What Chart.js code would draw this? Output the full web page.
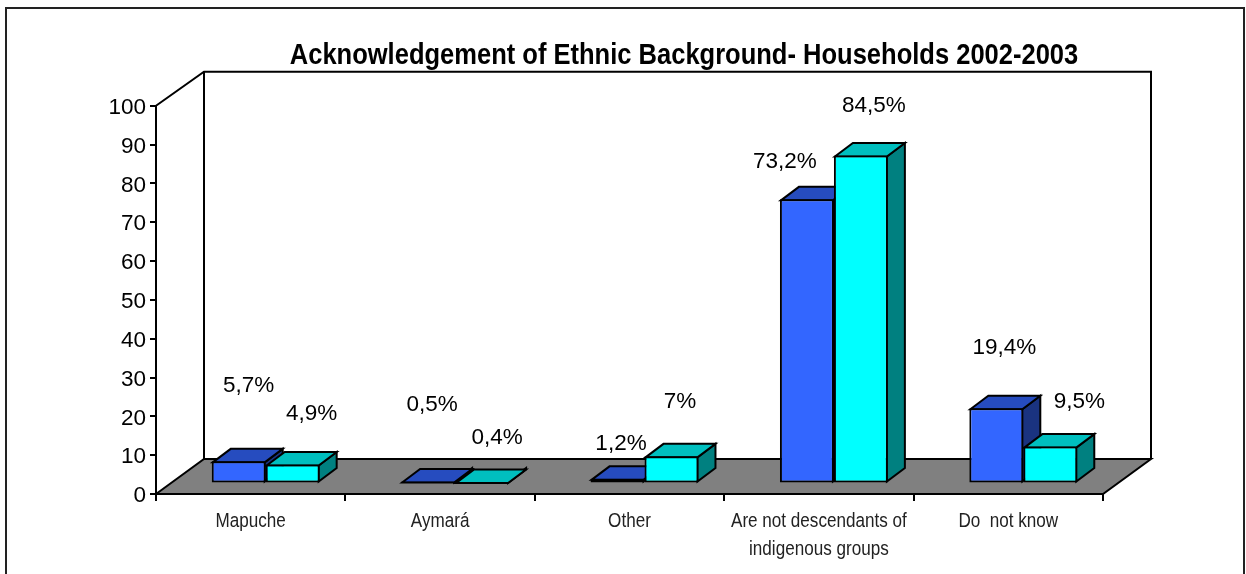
<!DOCTYPE html>
<html>
<head>
<meta charset="utf-8">
<style>
  html, body { margin: 0; padding: 0; background: #fff; overflow: hidden; }
  #box { position: relative; width: 1246px; height: 574px; }
</style>
<script src="https://cdn.jsdelivr.net/npm/chart.js@4/dist/chart.umd.min.js"></script>
</head>
<body>
<div id="box"><canvas id="chart" width="1246" height="574"></canvas></div>
<script>
const categories = ['Mapuche', 'Aymará', 'Other', ['Are not descendants of', 'indigenous groups'], 'Do  not know'];
const series2002 = [5.7, 0.5, 1.2, 73.2, 19.4];
const series2003 = [4.9, 0.4, 7, 84.5, 9.5];
const labels2002 = ['5,7%', '0,5%', '1,2%', '73,2%', '19,4%'];
const labels2003 = ['4,9%', '0,4%', '7%', '84,5%', '9,5%'];
const yTicks = [0, 10, 20, 30, 40, 50, 60, 70, 80, 90, 100];
const titleText = 'Acknowledgement of Ethnic Background- Households 2002-2003';

// Label placement relative to the top-centre of each bar's front face.
const labelNudge2002 = [[10, -75.5], [4, -76.5], [3.5, -35.5], [-22, -38], [8, -60.5]];
const labelNudge2003 = [[19, -51], [15, -44.5], [8.5, -54.5], [13, -50], [29, -45]];

// Pseudo-3D projection: the room's depth and where the bars stand inside it.
const ROOM_DX = 48, ROOM_DY = -35;
const ROW_DX = 15, ROW_DY = -10.5;
const BAR_DX = 18, BAR_DY = -13.5;

const faces = [
  { top: '#264cbf', side: '#1a3380' },
  { top: '#00bfbf', side: '#008080' }
];

const TITLE_SQUEEZE = 0.88;
const CATEGORY_SQUEEZE = 0.834;
const TITLE_CENTRE = 684;
const Y_LABEL_DROP = 2;

function poly(ctx, pts, fill) {
  ctx.beginPath();
  pts.forEach((p, i) => (i ? ctx.lineTo(p[0], p[1]) : ctx.moveTo(p[0], p[1])));
  ctx.closePath();
  ctx.fillStyle = fill;
  ctx.fill();
  ctx.stroke();
}

// Runs a drawing call with its text narrowed horizontally around each anchor,
// since no condensed face of the sans family is available.
function squeezed(ctx, k, draw) {
  const fill = ctx.fillText;
  ctx.fillText = function (t, x, y, m) {
    this.save();
    this.scale(k, 1);
    if (m === undefined) fill.call(this, t, x / k, y);
    else fill.call(this, t, x / k, y, m);
    this.restore();
  };
  draw();
  delete ctx.fillText;
}

const room3d = {
  id: 'room3d',
  afterLayout(chart) {
    const title = chart.titleBlock;
    const shift = TITLE_CENTRE - (title.left + title.right) / 2;
    title.left += shift;
    title.right += shift;
    if (!title._narrowed) {
      title._narrowed = true;
      const drawTitle = title.draw;
      title.draw = function () { squeezed(chart.ctx, TITLE_SQUEEZE, () => drawTitle.call(title)); };
      const xScale = chart.scales.x;
      const drawXLabels = xScale.drawLabels;
      xScale.drawLabels = function (area) { squeezed(chart.ctx, CATEGORY_SQUEEZE, () => drawXLabels.call(xScale, area)); };
      const yScale = chart.scales.y;
      const drawYLabels = yScale.drawLabels;
      yScale.drawLabels = function (area) {
        chart.ctx.save();
        chart.ctx.translate(0, Y_LABEL_DROP);
        drawYLabels.call(yScale, area);
        chart.ctx.restore();
      };
    }
  },
  beforeDraw(chart) {
    const { ctx, chartArea: a } = chart;
    ctx.save();
    ctx.lineWidth = 2;
    ctx.lineJoin = 'miter';
    // Frame around the whole figure, open past the bottom edge.
    ctx.strokeStyle = '#222';
    ctx.strokeRect(6, 8, 1238, 580);
    ctx.strokeStyle = '#000';
    // Floor.
    poly(ctx, [[a.left, a.bottom], [a.left + ROOM_DX, a.bottom + ROOM_DY],
               [a.right + ROOM_DX, a.bottom + ROOM_DY], [a.right, a.bottom]], '#808080');
    // Side and back walls.
    ctx.beginPath();
    ctx.moveTo(a.left, a.top);
    ctx.lineTo(a.left + ROOM_DX, a.top + ROOM_DY + 1);
    ctx.lineTo(a.right + ROOM_DX, a.top + ROOM_DY + 1);
    ctx.lineTo(a.right + ROOM_DX, a.bottom + ROOM_DY);
    ctx.moveTo(a.left + ROOM_DX, a.top + ROOM_DY + 1);
    ctx.lineTo(a.left + ROOM_DX, a.bottom + ROOM_DY);
    ctx.stroke();
    ctx.restore();
  },
  beforeDatasetsDraw(chart) {
    // Top and side faces go first, left series before right, so the right
    // series' faces cover the left series' side where they meet.
    const { ctx } = chart;
    ctx.save();
    ctx.lineWidth = 2;
    ctx.strokeStyle = '#000';
    ctx.lineJoin = 'miter';
    ctx.translate(ROW_DX, ROW_DY);
    [0, 1].forEach(ds => {
      const col = faces[ds];
      chart.getDatasetMeta(ds).data.forEach(el => {
        const p = el.getProps(['x', 'y', 'base', 'width'], true);
        const L = p.x - p.width / 2 + 1, R = p.x + p.width / 2 - 1;
        const T = p.y + 1, B = p.base - 1;
        poly(ctx, [[R, T], [R + BAR_DX, T + BAR_DY], [R + BAR_DX, B + BAR_DY], [R, B]], col.side);
        poly(ctx, [[L, T], [L + BAR_DX, T + BAR_DY], [R + BAR_DX, T + BAR_DY], [R, T]], col.top);
      });
    });
    ctx.restore();
  },
  beforeDatasetDraw(chart) {
    // Front faces come from the bar controller, moved back into the room.
    chart.ctx.save();
    chart.ctx.translate(ROW_DX, ROW_DY);
  },
  afterDatasetDraw(chart) {
    chart.ctx.restore();
  },
  afterDatasetsDraw(chart) {
    const { ctx } = chart;
    const texts = [labels2002, labels2003];
    const nudges = [labelNudge2002, labelNudge2003];
    ctx.save();
    ctx.font = '22.5px "Liberation Sans", Arial, sans-serif';
    ctx.fillStyle = '#000';
    ctx.textAlign = 'center';
    ctx.textBaseline = 'middle';
    [0, 1].forEach(ds => {
      chart.getDatasetMeta(ds).data.forEach((el, i) => {
        const p = el.getProps(['x', 'y'], true);
        ctx.fillText(texts[ds][i], p.x + ROW_DX + nudges[ds][i][0], p.y + ROW_DY + nudges[ds][i][1]);
      });
    });
    ctx.restore();
  }
};

new Chart(document.getElementById('chart'), {
  type: 'bar',
  plugins: [room3d],
  data: {
    labels: categories,
    datasets: [
      { label: '2002', data: series2002, backgroundColor: '#3366ff', borderColor: '#000', borderWidth: 2,
        borderSkipped: false, clip: false },
      { label: '2003', data: series2003, backgroundColor: '#00ffff', borderColor: '#000', borderWidth: 2,
        borderSkipped: false, clip: false }
    ]
  },
  options: {
    responsive: false,
    animation: false,
    layout: { padding: { left: 0, right: 143, top: 0, bottom: 0 } },
    datasets: { bar: { categoryPercentage: 0.57, barPercentage: 1 } },
    plugins: {
      legend: { display: false },
      tooltip: { enabled: false },
      title: {
        display: true,
        text: titleText,
        color: '#000',
        font: { family: '"Liberation Sans", Arial, sans-serif', size: 29, weight: 'bold', lineHeight: 1.2 },
        padding: { top: 39, bottom: 32 }
      }
    },
    scales: {
      x: {
        grid: { display: true, drawOnChartArea: false, drawTicks: true, tickLength: 7, color: '#000', lineWidth: 2, offset: true },
        border: { display: true, color: '#000', width: 2 },
        ticks: {
          color: '#222',
          padding: 6,
          maxRotation: 0,
          autoSkip: false,
          font: { family: '"Liberation Sans", Arial, sans-serif', size: 20.5, lineHeight: 1.38 }
        },
        afterFit(scale) { scale.height = 80; }
      },
      y: {
        min: yTicks[0],
        max: yTicks[yTicks.length - 1],
        afterBuildTicks(scale) { scale.ticks = yTicks.map(v => ({ value: v })); },
        grid: { display: true, drawOnChartArea: false, drawTicks: true, tickLength: 6, color: '#000', lineWidth: 2 },
        border: { display: true, color: '#000', width: 2 },
        ticks: {
          color: '#000',
          padding: 4,
          font: { family: '"Liberation Sans", Arial, sans-serif', size: 22.5 }
        },
        afterFit(scale) { scale.width = 156; }
      }
    }
  }
});
</script>
</body>
</html>
